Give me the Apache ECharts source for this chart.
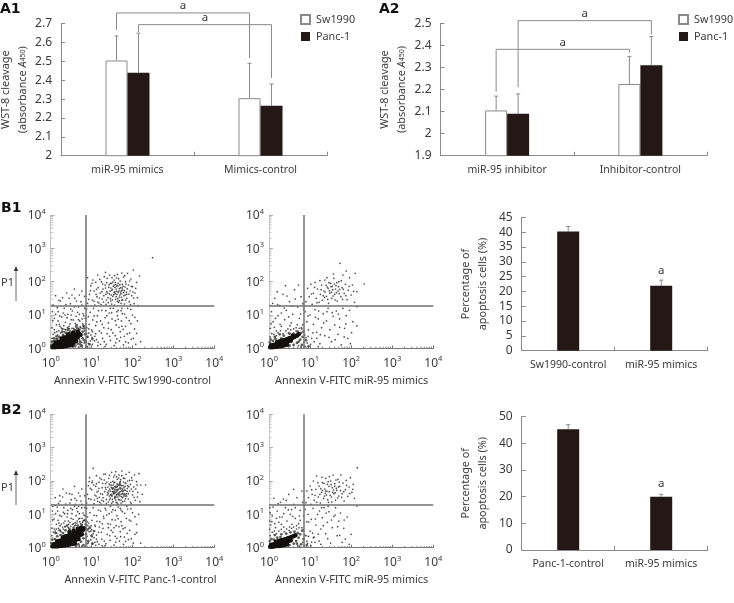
<!DOCTYPE html>
<html><head><meta charset="utf-8">
<script src="https://cdn.jsdelivr.net/npm/echarts@6/dist/echarts.min.js"></script>
<style>html,body{margin:0;padding:0;background:#fff}#c{width:734px;height:603px}</style></head>
<body><div id="c"></div>
<script>
// ---------- bar data ----------
const a1Cats = ['miR-95 mimics', 'Mimics-control'];
const a1Sw = [2.505, 2.305];
const a1Panc = [2.44, 2.265];
const a1SwTop = [2.635, 2.49];
const a1PancTop = [2.65, 2.38];
// bracket: category L, category R, side, left end, right end, line level
const a1Brackets = [[0, 1, -1, 2.667, 2.518, 2.757], [0, 1, 1, 2.656, 2.412, 2.695]];
const a2Cats = ['miR-95 inhibitor', 'Inhibitor-control'];
const a2Sw = [2.105, 2.225];
const a2Panc = [2.09, 2.31];
const a2SwTop = [2.17, 2.35];
const a2PancTop = [2.18, 2.44];
const a2Brackets = [[0, 1, -1, 2.19, 2.367, 2.382], [0, 1, 1, 2.21, 2.45, 2.512]];
const b1Cats = ['Sw1990-control', 'miR-95 mimics'];
const b1Vals = [40.2, 21.9];
const b1Tops = [41.9, 23.8];
const b1Sig = [[1, 27]];
const b2Cats = ['Panc-1-control', 'miR-95 mimics'];
const b2Vals = [45.3, 20];
const b2Tops = [47, 20.9];
const b2Sig = [[1, 24.8]];
// ---------- flow cytometry data (log10 decades, read by eye) ----------
const f1Core = [[.05,.03],[.11,.03],[.17,.04],[.23,.04],[.29,.05],[.35,.06],[.41,.08],[.47,.09],[.53,.11],[.08,.09],[.14,.1],[.2,.11],[.26,.12],[.32,.13],[.38,.15],[.44,.17],[.5,.19],[.56,.2],[.62,.22],[.12,.17],[.18,.19],[.24,.2],[.3,.22],[.36,.24],[.42,.26],[.48,.28],[.54,.3],[.6,.31],[.66,.33],[.27,.29],[.33,.32],[.39,.34],[.45,.36],[.51,.39],[.57,.4],[.63,.42],[.69,.44],[.73,.4],[.43,.42],[.55,.47],[.66,.5]];
const f1Halo = [[.02,.1],[.03,.2],[.08,.22],[.16,.28],[.21,.34],[.3,.4],[.37,.46],[.47,.5],[.6,.54],[.7,.56],[.78,.5],[.82,.6],[.84,.42],[.78,.3],[.72,.2],[.66,.14],[.6,.08],[.54,.05],[.76,.08],[.86,.2],[.9,.34],[.95,.12],[1.02,.28],[.14,.36],[.28,.5],[.42,.56],[.08,.3],[.8,.68],[.64,.62],[.72,.12],[.58,.15],[.82,.24]];
const f1Sparse = [[.9,1.35],[.95,1.62],[.98,1.88],[1.02,1.45],[1.03,2.05],[1.06,1.72],[1.08,1.3],[1.1,1.98],[1.13,1.55],[1.16,1.82],[1.18,1.36],[1.21,1.66],[1.24,2.0],[1.26,1.48],[1.28,1.78],[1.3,1.58],[1.33,1.9],[1.35,1.32],[1.37,1.7],[1.38,2.1],[1.4,1.52],[1.42,1.83],[1.44,1.63],[1.46,1.95],[1.47,1.42],[1.49,1.74],[1.5,2.12],[1.52,1.56],[1.53,1.86],[1.55,1.68],[1.56,1.3],[1.58,1.98],[1.59,1.47],[1.6,1.78],[1.62,1.62],[1.63,2.22],[1.64,1.88],[1.66,1.38],[1.67,1.72],[1.68,1.54],[1.7,2.02],[1.71,1.82],[1.72,1.64],[1.74,1.44],[1.75,1.92],[1.76,1.75],[1.78,2.14],[1.79,1.58],[1.8,1.33],[1.82,1.84],[1.83,2.0],[1.85,1.68],[1.86,1.5],[1.88,2.25],[1.9,1.9],[1.92,1.4],[1.94,1.72],[1.96,2.08],[1.98,1.58],[2.0,1.85],[2.02,2.35],[2.04,1.34],[2.06,1.66],[2.1,1.98],[2.14,1.28],[2.17,2.17],[2.49,2.72],[1.25,1.7],[1.45,1.72],[1.65,1.95],[1.57,1.7],[1.48,1.6],[1.35,1.62],[1.6,1.55],[.9,2.12],[1.15,2.2],[1.55,2.05],
[.88,1.18],[.92,.95],[.94,.72],[.97,1.08],[1.0,.55],[1.03,.85],[1.05,1.2],[1.08,.36],[1.1,.68],[1.14,.98],[1.16,.18],[1.19,.52],[1.22,.82],[1.25,1.14],[1.27,.3],[1.3,.62],[1.33,.92],[1.36,.12],[1.38,.44],[1.41,.76],[1.43,1.06],[1.46,.24],[1.48,.56],[1.5,.88],[1.53,1.2],[1.55,.08],[1.58,.38],[1.6,.7],[1.63,.98],[1.65,1.14],[1.68,.22],[1.7,.5],[1.73,.82],[1.75,1.04],[1.78,.1],[1.8,.36],[1.83,.66],[1.85,.92],[1.88,1.2],[1.9,.16],[1.93,.46],[1.96,.74],[2.0,1.0],[2.02,.3],[2.05,.58],[2.08,.12],[2.12,.82],[2.2,.2],[1.74,1.2],[1.62,1.1],[1.46,1.2],
[.03,.62],[.06,1.3],[.09,.9],[.12,1.58],[.15,.5],[.18,1.1],[.21,.72],[.24,1.42],[.27,.94],[.3,.58],[.33,1.2],[.36,.78],[.39,1.66],[.42,1.02],[.45,.66],[.48,1.34],[.5,.86],[.53,1.12],[.56,.6],[.59,1.5],[.62,.96],[.65,.7],[.68,1.24],[.71,.82],[.74,1.4],[.76,1.72],[.79,1.04],[.81,.66],[.83,1.56],[.84,.9],[.58,1.78],[.7,1.6],[.45,1.5],[.2,1.44],[.35,1.0],[.5,1.0],
[1.57,1.83],[1.71,1.69],[1.43,1.91],[1.84,1.93],[1.66,2.09],[1.51,1.77],[1.39,1.66],[1.77,1.86],[1.62,1.71],[1.91,1.63],[1.34,1.81],[1.69,1.91],[1.54,1.61],[1.8,1.73],[1.46,1.49],[1.73,1.53],[1.59,1.92],[1.27,1.93],[1.41,1.37],[1.87,1.79],[1.64,1.49],[1.36,1.45],[1.78,1.67],[1.52,1.99],[1.19,1.51],[1.93,2.02],[1.31,2.15],[1.61,2.11],[1.12,1.77],[1.06,1.41],[.97,1.73],[1.81,2.18],[1.97,1.86],[1.74,2.26],[1.68,1.43],[1.83,1.45],[1.49,1.33],[2.03,1.51],[2.08,1.8],[1.23,1.31],[1.11,1.62],[1.01,1.95],[1.29,1.39],[1.56,2.18],[1.44,2.2],[1.2,2.07],[.93,1.47],[1.95,1.31],[1.72,1.35],[1.37,1.97],[1.63,1.41],[1.51,1.45],[1.86,1.62],[1.76,1.46],[1.15,1.39],[2.01,1.69],[2.12,1.52],[1.34,2.28],
[1.72,1.13],[1.58,.83],[1.81,1.03],[1.49,1.07],[1.67,.63],[1.37,.98],[1.92,.83],[1.24,.46],[1.13,.79],[1.44,.36],[1.77,.57],[1.59,.17],[1.31,.2],[1.87,.43],[1.01,.33],[1.06,.97],[.93,.58],[1.17,1.13],[.89,.34],[1.97,.27],[1.65,.87],[1.52,.46],[1.41,.6],[1.35,1.13],[1.26,.72],[1.71,.33],[2.06,.93],[1.83,.19],[1.96,1.17],[2.1,.45],[.92,.15],[1.02,.12],[1.12,.26],[1.33,.06],[1.62,.28],[1.74,.66],
[.47,.73],[.18,.82],[.61,.66],[.32,.68],[.73,.62],[.09,.56],[.55,.85],[.26,.61],[.4,.92],[.77,.88],[.14,.7],[.66,1.08],[.49,1.18],[.31,1.06],[.83,1.2],[.22,.97],[.58,1.24],[.37,1.31],[.16,1.22],[.78,.74],[.05,.83],[.7,1.02],[.43,.6],[.63,1.42],[.52,1.6],[.29,1.52],[.68,.86],[.12,1.02],[.81,.98],[.04,1.1],[.76,1.3],[.35,.57],[.6,.75],[.23,.66],
[.03,.3],[.06,.42],[.1,.47],[.13,.28],[.17,.4],[.2,.53],[.24,.46],[.28,.58],[.33,.49],[.37,.55],[.41,.63],[.46,.58],[.52,.6],[.57,.57],[.62,.7],[.68,.6],[.72,.65],[.77,.6],[.83,.52],[.88,.62],[.93,.46],[.98,.4],[1.02,.5],[1.07,.22],[.86,.08],[.9,.05],[.97,.22],[.74,.05],[.68,.04],[.82,.16],[.76,.18],[.7,.26],[.88,.44],[1.1,.44],[1.15,.08],[1.22,.12],[1.47,1.81],[1.61,1.87],[1.68,1.79],[1.73,1.73],[1.55,1.9],[1.49,1.95],[1.65,1.68],[1.58,1.64],[1.69,1.6],[1.82,1.6],[1.75,1.81]];
const f2Core = [[.03,.03],[.08,.03],[.14,.04],[.2,.05],[.26,.06],[.32,.07],[.38,.09],[.44,.11],[.05,.09],[.11,.1],[.17,.12],[.23,.14],[.29,.15],[.35,.17],[.41,.19],[.47,.21],[.53,.23],[.2,.19],[.26,.21],[.32,.23],[.38,.25],[.44,.28],[.5,.31],[.56,.3],[.62,.34],[.68,.38],[.72,.42],[.58,.38]];
const f2Halo = [[.02,.18],[.04,.26],[.1,.22],[.16,.28],[.3,.3],[.36,.38],[.5,.44],[.6,.44],[.7,.5],[.78,.46],[.82,.34],[.76,.26],[.68,.16],[.6,.1],[.5,.08],[.8,.1],[.9,.24],[.96,.06],[.14,.34],[.26,.42],[.84,.5],[.72,.2]];
const f2Sparse = [[.9,1.4],[.94,1.8],[.98,1.55],[1.02,1.92],[1.05,1.32],[1.08,1.65],[1.12,1.98],[1.15,1.5],[1.18,1.78],[1.22,1.38],[1.25,1.62],[1.28,1.9],[1.3,1.45],[1.34,1.72],[1.36,2.05],[1.4,1.56],[1.42,1.84],[1.45,1.35],[1.48,1.66],[1.5,1.95],[1.53,1.5],[1.55,1.76],[1.58,2.1],[1.6,1.62],[1.63,1.88],[1.66,1.42],[1.68,1.72],[1.7,2.0],[1.73,2.55],[1.75,1.55],[1.78,1.82],[1.8,2.2],[1.83,1.65],[1.86,1.92],[1.88,2.32],[1.9,1.46],[1.93,1.74],[1.96,2.12],[2.0,1.6],[2.03,1.9],[2.08,1.38],[2.1,2.25],[2.14,1.7],[2.32,1.93],[1.32,1.58],[1.52,1.68],[1.62,1.78],[1.44,1.8],
[.88,1.1],[.92,.8],[.96,.55],[1.0,1.0],[1.04,.3],[1.08,.72],[1.12,1.16],[1.16,.48],[1.2,.88],[1.24,.14],[1.28,.62],[1.32,1.04],[1.36,.38],[1.4,.82],[1.44,1.2],[1.48,.56],[1.52,.2],[1.56,.96],[1.6,.7],[1.64,1.12],[1.68,.42],[1.72,.88],[1.76,.1],[1.8,1.2],[1.84,.6],[1.88,.98],[1.92,.3],[1.96,1.14],[2.04,.8],[2.14,.67],[2.14,1.25],[1.98,.14],
[.03,.6],[.06,1.1],[.1,.8],[.14,1.5],[.18,.52],[.22,.98],[.26,1.28],[.3,.66],[.34,1.62],[.38,.86],[.42,1.14],[.46,.58],[.5,1.4],[.54,.76],[.58,1.02],[.62,1.76],[.66,.62],[.7,1.24],[.74,.9],[.78,1.55],[.82,.7],[.84,1.18],[.72,1.9],[.4,1.88],[.2,1.7],
[1.47,1.73],[1.59,1.93],[1.39,1.89],[1.71,1.64],[1.56,1.57],[1.27,1.76],[1.81,1.77],[1.65,1.97],[1.43,1.47],[1.76,2.03],[1.11,1.83],[1.87,1.58],[1.35,1.53],[1.61,1.45],[1.51,1.85],[1.24,2.03],[1.69,1.85],[1.95,1.86],[1.03,1.63],[1.17,1.37],[1.57,2.23],[2.06,1.71],[1.41,2.12],[1.79,1.47],
[1.33,.76],[1.54,1.07],[1.13,.93],[1.46,.33],[1.72,.63],[1.25,.41],[1.61,.26],[1.41,1.1],[1.07,.46],[1.87,.73],[.95,.97],[.9,.32],[1.69,1.03],[1.21,1.12],[2.01,.47],[1.83,.34],
[.27,.72],[.48,.94],[.13,.63],[.69,.71],[.37,1.21],[.57,1.27],[.05,.74],[.77,1.03],[.21,1.31],[.44,1.57],[.64,1.48],[.82,1.34],[.09,1.35],[.3,1.06],[.51,.68],[.79,.62],[.16,.9],
[.03,.34],[.07,.44],[.12,.42],[.18,.38],[.22,.47],[.28,.53],[.34,.44],[.41,.52],[.47,.46],[.53,.55],[.6,.58],[.66,.52],[.74,.6],[.8,.58],[.87,.4],[.93,.16],[.88,.06],[.78,.04],[.72,.08],[.85,.18],[.95,.36],[1.01,.12],[1.1,.2],[1.2,.05],[1.16,.3],[1.37,1.69],[1.54,1.86],[1.64,1.67],[1.46,1.97],[1.72,1.77]];
const f3Core = [[.05,.04],[.11,.04],[.17,.04],[.23,.05],[.29,.06],[.35,.07],[.41,.08],[.47,.1],[.53,.11],[.59,.13],[.08,.1],[.14,.11],[.2,.12],[.26,.13],[.32,.15],[.38,.16],[.44,.18],[.5,.2],[.56,.22],[.62,.24],[.68,.26],[.16,.19],[.22,.21],[.28,.23],[.34,.25],[.4,.27],[.46,.29],[.52,.31],[.58,.33],[.64,.35],[.7,.37],[.76,.4],[.3,.31],[.36,.34],[.42,.36],[.48,.39],[.54,.41],[.6,.43],[.66,.46],[.72,.49],[.78,.52],[.82,.58],[.46,.47],[.56,.51],[.66,.56],[.74,.6]];
const f3Halo = [[.02,.14],[.04,.24],[.1,.26],[.16,.34],[.24,.38],[.3,.44],[.36,.52],[.46,.56],[.56,.6],[.66,.66],[.76,.68],[.86,.7],[.9,.54],[.86,.4],[.8,.28],[.74,.18],[.68,.1],[.62,.06],[.8,.08],[.92,.2],[1.0,.36],[1.02,.12],[.96,.6],[1.06,.5],[.22,.52],[.12,.44],[.4,.66],[.84,.82],
[1.56,1.65],[1.62,1.72],[1.66,1.62],[1.7,1.78],[1.6,1.82],[1.76,1.7],[1.52,1.78],[1.68,1.88],[1.8,1.6],[1.48,1.58],[1.58,1.52]];
const f3Sparse = [[.88,1.34],[.9,1.6],[.92,1.86],[.95,2.1],[.98,1.45],[1.0,1.74],[1.02,2.0],[1.04,2.38],[1.06,1.32],[1.08,1.58],[1.1,1.84],[1.12,2.16],[1.14,1.48],[1.16,1.7],[1.18,1.96],[1.2,1.36],[1.22,1.62],[1.24,2.05],[1.26,1.8],[1.28,1.5],[1.3,2.2],[1.32,1.68],[1.34,1.92],[1.36,1.32],[1.38,1.58],[1.4,1.82],[1.42,2.08],[1.44,1.44],[1.46,1.7],[1.47,1.96],[1.49,2.26],[1.5,1.55],[1.52,1.38],[1.53,1.88],[1.54,2.12],[1.56,1.48],[1.57,1.96],[1.59,2.28],[1.6,1.36],[1.61,1.6],[1.63,2.05],[1.64,1.9],[1.66,1.45],[1.67,2.18],[1.69,1.55],[1.7,1.98],[1.72,1.34],[1.73,1.86],[1.74,2.3],[1.76,1.5],[1.78,2.08],[1.79,1.8],[1.81,1.4],[1.82,1.94],[1.84,2.2],[1.85,1.62],[1.87,1.78],[1.88,2.0],[1.9,1.46],[1.92,2.26],[1.93,1.7],[1.95,1.9],[1.97,1.32],[1.98,2.1],[2.0,1.58],[2.03,1.82],[2.05,2.18],[2.07,1.42],[2.1,1.98],[2.13,1.66],[2.16,2.22],[2.18,1.38],[2.2,1.88],[2.24,1.6],[2.32,1.88],[1.12,1.92],[1.25,1.42],[1.35,1.75],[1.43,1.55],[1.55,1.7],[1.65,1.75],[1.75,1.62],[1.83,1.72],[1.9,1.62],[1.45,1.88],
[.88,1.18],[.9,.92],[.93,.74],[.96,1.05],[.98,.5],[1.01,.82],[1.04,1.2],[1.06,.3],[1.09,.64],[1.12,.96],[1.14,.18],[1.17,.46],[1.2,.78],[1.22,1.1],[1.25,.26],[1.28,.58],[1.3,.88],[1.33,1.18],[1.35,.12],[1.38,.4],[1.4,.72],[1.43,1.02],[1.45,.22],[1.48,.52],[1.5,.84],[1.52,1.14],[1.55,.08],[1.58,.34],[1.6,.66],[1.62,.96],[1.65,1.22],[1.68,.2],[1.7,.48],[1.72,.78],[1.75,1.08],[1.78,.1],[1.8,.32],[1.82,.6],[1.85,.88],[1.88,1.16],[1.9,.24],[1.93,.52],[1.96,.8],[2.0,1.05],[2.02,.14],[2.06,.4],[2.1,.7],[2.15,1.0],[2.2,.14],[1.46,1.24],[1.64,1.3],[1.58,1.12],[1.7,1.18],
[.03,.58],[.05,1.24],[.08,.86],[.11,1.5],[.14,.56],[.17,1.1],[.2,.74],[.23,1.4],[.26,.94],[.29,.62],[.32,1.2],[.35,.8],[.38,1.64],[.41,1.02],[.44,.7],[.47,1.34],[.5,.88],[.53,1.14],[.56,.72],[.59,1.48],[.62,.96],[.65,.8],[.68,1.24],[.71,.88],[.74,1.4],[.76,1.76],[.79,1.04],[.81,.82],[.83,1.56],[.84,.96],[.58,1.84],[.68,1.64],[.46,1.62],[.22,1.56],[.34,1.02],[.52,1.02],[.3,1.76],[.6,1.3],[.76,1.2],
[1.57,1.83],[1.71,1.69],[1.43,1.91],[1.84,1.93],[1.66,2.09],[1.51,1.77],[1.39,1.66],[1.77,1.86],[1.62,1.91],[1.91,1.83],[1.34,1.81],[1.69,1.95],[1.54,1.61],[1.8,1.73],[1.46,1.49],[1.73,1.53],[1.59,1.43],[1.27,1.93],[1.41,1.37],[1.87,1.69],[1.64,1.52],[1.36,1.45],[1.78,1.97],[1.52,1.99],[1.19,1.51],[1.93,2.02],[1.31,2.03],[1.61,2.13],[1.13,1.67],[1.07,1.43],[.97,1.78],[1.81,2.08],[1.97,1.76],[1.74,2.16],[1.68,1.43],[1.83,1.47],[1.49,1.33],[2.04,1.51],[2.08,1.76],[1.23,1.31],[1.11,1.55],[1.01,1.95],[1.29,1.39],[1.56,2.18],[1.44,2.17],[1.2,2.09],[.93,1.47],[1.95,1.37],[1.72,1.43],[1.37,1.97],[1.63,1.34],[1.51,1.45],[1.86,1.55],[1.76,1.38],[1.15,1.39],[2.01,1.69],[2.12,1.52],[1.34,2.21],[1.48,1.81],[1.6,1.67],[1.71,2.04],[1.42,1.7],[1.53,1.65],[1.68,1.67],[1.79,1.55],[1.27,1.6],[1.18,1.78],[1.05,1.88],[.94,1.98],[1.99,2.02],[1.88,1.86],[2.11,1.88],
[1.72,1.13],[1.58,.83],[1.81,1.03],[1.49,1.07],[1.67,.63],[1.37,.98],[1.92,.83],[1.24,.46],[1.13,.79],[1.44,.36],[1.77,.57],[1.59,.17],[1.31,.2],[1.87,.43],[1.01,.33],[1.06,.97],[.93,.58],[1.17,1.13],[.89,.34],[1.97,.27],[1.65,.87],[1.52,.46],[1.41,.6],[1.35,1.13],[1.26,.72],[1.71,.33],[2.06,.93],[1.83,.19],[1.96,1.17],[2.1,.45],[.92,.15],[1.02,.12],[1.12,.26],[1.33,.06],[1.62,.28],[1.74,.66],[1.19,.62],[1.08,.16],[1.29,.94],[.99,.66],[1.55,.6],[1.86,1.24],[1.46,.7],
[.47,.76],[.18,.82],[.61,.68],[.32,.74],[.73,.72],[.09,.56],[.55,.85],[.26,.71],[.4,.92],[.77,.88],[.14,.7],[.66,1.08],[.49,1.18],[.31,1.06],[.83,1.2],[.22,.97],[.58,1.24],[.37,1.31],[.16,1.22],[.78,.76],[.05,.83],[.7,1.02],[.43,.8],[.63,1.42],[.52,1.6],[.29,1.52],[.68,.86],[.12,1.02],[.81,.98],[.04,1.1],[.76,1.3],[.35,.62],[.6,.75],[.23,.66],[.5,1.44],[.42,1.12],[.64,1.18],[.19,1.33],[.72,1.55],[.1,1.27],
[.03,.36],[.07,.46],[.11,.5],[.15,.44],[.19,.58],[.25,.48],[.31,.56],[.35,.64],[.43,.6],[.49,.64],[.53,.7],[.59,.66],[.64,.74],[.71,.78],[.79,.8],[.89,.78],[.94,.48],[1.0,.54],[1.04,.42],[.98,.24],[.9,.12],[.84,.05],[.76,.05],[.7,.05],[.87,.3],[.91,.66],[1.08,.68],[1.12,.38],[1.18,.1],[1.26,.06],[1.1,.07],[1.51,1.68],[1.63,1.84],[1.72,1.6],[1.57,1.75],[1.44,1.76],[1.75,1.76],[1.67,1.58],[1.82,1.84],[1.62,1.58],[1.49,1.88],[1.55,1.95],[1.7,1.9],[1.41,1.62],[1.83,1.55]];
const f4Core = [[.03,.03],[.08,.03],[.14,.04],[.2,.05],[.26,.05],[.32,.07],[.38,.08],[.44,.1],[.05,.09],[.11,.1],[.17,.11],[.23,.13],[.29,.14],[.35,.16],[.41,.18],[.47,.2],[.53,.22],[.17,.18],[.23,.2],[.29,.22],[.35,.24],[.41,.26],[.47,.29],[.53,.31],[.59,.34],[.64,.37]];
const f4Halo = [[.02,.2],[.06,.26],[.12,.24],[.2,.3],[.28,.32],[.3,.4],[.42,.42],[.52,.46],[.62,.48],[.7,.44],[.76,.4],[.72,.3],[.66,.2],[.6,.12],[.5,.08],[.78,.1],[.84,.26],[.82,.52],[.92,.08],[.14,.38],[.68,.12]];
const f4Sparse = [[.9,1.35],[.92,1.7],[.96,1.5],[1.0,1.85],[1.02,1.3],[1.05,1.6],[1.08,2.0],[1.1,1.42],[1.14,1.75],[1.16,2.15],[1.2,1.52],[1.22,1.85],[1.25,1.34],[1.28,1.66],[1.3,1.95],[1.33,1.48],[1.36,1.76],[1.38,2.08],[1.4,1.58],[1.42,1.9],[1.45,1.36],[1.47,1.68],[1.5,2.0],[1.52,1.52],[1.54,1.8],[1.56,2.18],[1.58,1.62],[1.6,1.92],[1.62,1.42],[1.65,1.72],[1.68,2.05],[1.7,1.55],[1.72,1.84],[1.75,2.18],[1.78,1.62],[1.8,1.94],[1.83,1.4],[1.86,1.74],[1.88,2.02],[1.92,1.54],[1.95,1.82],[1.98,2.1],[2.02,1.66],[2.05,1.9],[2.08,1.48],[2.15,2.4],[1.3,1.72],[1.46,1.84],[1.55,1.66],[1.24,1.6],[1.64,1.78],[1.35,1.55],
[.88,1.15],[.92,.78],[.95,1.0],[1.0,.5],[1.03,.85],[1.07,1.18],[1.1,.32],[1.14,.68],[1.18,1.0],[1.22,.2],[1.26,.56],[1.3,.9],[1.34,1.2],[1.38,.42],[1.42,.76],[1.46,1.08],[1.5,.14],[1.54,.6],[1.58,.94],[1.62,1.2],[1.66,.36],[1.7,.8],[1.74,1.04],[1.78,.16],[1.82,.58],[1.86,.26],[1.9,.92],[1.95,.1],[2.0,.4],[2.14,1.25],[1.28,1.2],[1.44,1.24],
[.02,.55],[.02,.8],[.03,1.05],[.02,1.2],[.04,.68],[.08,.95],[.12,1.48],[.16,.6],[.2,1.1],[.24,.76],[.28,1.36],[.32,.92],[.36,.62],[.4,1.2],[.44,.8],[.48,1.6],[.52,1.0],[.56,.7],[.6,1.3],[.64,.88],[.68,1.5],[.72,.72],[.76,1.12],[.8,1.7],[.84,.95],[.6,1.75],[.35,1.46],[.8,.6],
[1.41,1.69],[1.57,1.73],[1.34,1.93],[1.71,1.97],[1.49,1.57],[1.26,1.77],[1.82,1.68],[1.63,2.03],[1.43,1.44],[1.77,1.51],[1.12,1.57],[1.89,1.87],[1.37,1.63],[1.53,1.37],[1.6,1.84],[1.19,1.95],[1.67,1.49],[1.97,1.63],[1.04,1.74],[1.16,1.36],[1.47,2.13],[2.04,1.75],[1.29,2.11],[1.74,1.71],
[1.32,.66],[1.52,.83],[1.13,.86],[1.43,.27],[1.67,.63],[1.2,.41],[1.61,.98],[1.39,1.04],[1.06,.44],[1.83,.83],[.97,.77],[.9,.36],[1.72,.37],[1.23,1.1],[.94,.13],[1.04,.17],
[.26,.92],[.47,1.14],[.14,.72],[.67,.66],[.36,1.02],[.55,1.14],[.07,.78],[.74,.95],[.22,1.32],[.42,1.42],[.64,1.2],[.82,1.36],[.1,1.22],[.3,.7],[.5,.62],[.76,.82],[.18,.88],[.58,.94],
[.03,.36],[.08,.46],[.13,.5],[.18,.42],[.24,.5],[.3,.55],[.37,.48],[.43,.56],[.49,.52],[.55,.58],[.6,.62],[.67,.56],[.73,.6],[.8,.5],[.87,.38],[.92,.2],[.86,.05],[.74,.04],[.7,.06],[.82,.16],[.96,.34],[1.02,.06],[1.12,.16],[1.26,.1],[1.08,.3],[1.38,1.7],[1.51,1.89],[1.61,1.65],[1.44,1.98],[1.69,1.82]];
// ---------- axis tick factors ----------
const decades = [0, 1, 2, 3];
const minorFactors = [2, 3, 4, 5, 6, 7, 8, 9];

const txt = '#3a3a3a', ax = '#8a8a8a', black = '#231815';
const font = '"Noto Sans","DejaVu Sans",sans-serif';
const BW = 22;
const grid = [
  {left:61, top:23.7, width:266, height:132},
  {left:440.5, top:23.3, width:266.5, height:132.4},
  {left:50.7, top:215, width:163.6, height:133.3},
  {left:269, top:215, width:164.3, height:133.3},
  {left:521.7, top:217.3, width:186, height:133.4},
  {left:50.7, top:414.3, width:163.6, height:133.4},
  {left:269, top:414.3, width:164.3, height:133.4},
  {left:521.7, top:416.7, width:186, height:133.3}
].map(g => ({...g, outerBoundsMode:'none', containLabel:false}));
const catAxis = (i, cats) => ({type:'category', gridIndex:i, data:cats,
  axisLine:{lineStyle:{color:ax}}, axisTick:{show:true, inside:true, length:4, lineStyle:{color:ax}},
  axisLabel:{color:txt, fontSize:10.5, fontFamily:font, margin:9, interval:0}});
const valAxis = (i, min, max, step, name, gap) => ({type:'value', gridIndex:i, min, max, interval:step,
  name, nameLocation:'middle', nameRotate:90, nameGap:gap,
  nameTextStyle:{color:txt, fontSize:10.8, fontFamily:font, lineHeight:17,
    rich:{n:{color:txt, fontSize:10.8, fontFamily:font, lineHeight:17}, i:{color:txt, fontSize:10.8, fontStyle:'italic', fontFamily:font}, s:{color:txt, fontSize:7, fontFamily:font}}},
  splitLine:{show:false}, axisLine:{show:true, lineStyle:{color:ax}}, axisTick:{show:true, inside:true, length:4, lineStyle:{color:ax}},
  axisLabel:{color:txt, fontSize:12, fontFamily:font, margin:9}});
const powLabel = v => '{b|10}{s|' + v + '}';
const powRich = {b:{fontSize:12, color:txt, fontFamily:font, verticalAlign:'bottom', lineHeight:14}, s:{fontSize:7.5, color:txt, fontFamily:font, verticalAlign:'top', lineHeight:14}};
const flowX = (i, name, pad) => ({type:'value', gridIndex:i, min:0, max:4, interval:1,
  name, nameLocation:'middle', nameGap:27, nameTextStyle:{color:txt, fontSize:10.8, fontFamily:font, padding:pad},
  splitLine:{show:false}, axisLine:{lineStyle:{color:'#777'}}, axisTick:{inside:true, length:3, lineStyle:{color:'#777'}},
  axisLabel:{formatter:powLabel, rich:powRich, margin:7}});
const flowY = i => ({type:'value', gridIndex:i, min:0, max:4, interval:1,
  splitLine:{show:false}, axisLine:{show:true, lineStyle:{color:'#c4c4c4'}}, axisTick:{show:true, inside:true, length:4, lineStyle:{color:'#b0b0b0'}},
  axisLabel:{formatter:powLabel, rich:powRich, margin:5}});

const xAxis = [catAxis(0,a1Cats), catAxis(1,a2Cats), flowX(2,'Annexin V-FITC Sw1990-control',[0,0,0,0]), flowX(3,'Annexin V-FITC miR-95 mimics',[0,0,0,1]), catAxis(4,b1Cats), flowX(5,'Annexin V-FITC Panc-1-control',[0,0,0,16]), flowX(6,'Annexin V-FITC miR-95 mimics',[0,0,0,1]), catAxis(7,b2Cats)];
const wst = '{n|WST-8 cleavage}\n{n|(absorbance }{i|A}{s|450}{n|)}';
const pct = '{n|Percentage of}\n{n|apoptosis cells (%)}';
const yAxis = [valAxis(0,2,2.7,.1,wst,29), valAxis(1,1.9,2.5,.1,wst,30), flowY(2), flowY(3), valAxis(4,0,45,5,pct,30), flowY(5), flowY(6), valAxis(7,0,50,10,pct,30)];

const gray = '#8a8a8a';
const errSeries = (i, cats, tops, vals, side) => ({type:'custom', xAxisIndex:i, yAxisIndex:i, silent:true, z:1,
  data:tops.map((t,k)=>[k, vals[k], t]), encode:{x:0,y:2},
  renderItem:(p,api)=>{ const a=api.coord([api.value(0),api.value(1)]), b=api.coord([api.value(0),api.value(2)]); const x=a[0]+side*BW/2;
    return {type:'group',children:[
      {type:'line',shape:{x1:x,y1:a[1],x2:x,y2:b[1]},style:{stroke:gray,lineWidth:1}},
      {type:'line',shape:{x1:x-2,y1:b[1],x2:x+2,y2:b[1]},style:{stroke:gray,lineWidth:1}}]};}});
const bracketSeries = (i, list) => ({type:'custom', xAxisIndex:i, yAxisIndex:i, silent:true, z:5, data:list, encode:{x:0,y:5},
  renderItem:(p,api)=>{ const s=api.value(2)*BW/2;
    const l=api.coord([api.value(0),api.value(3)]), r=api.coord([api.value(1),api.value(4)]), t=api.coord([api.value(0),api.value(5)]);
    const xl=l[0]+s, xr=r[0]+s;
    return {type:'group',children:[
      {type:'polyline',shape:{points:[[xl,l[1]],[xl,t[1]],[xr,t[1]],[xr,r[1]]]},style:{stroke:gray,fill:null,lineWidth:1}},
      {type:'text',style:{text:'a',x:(xl+xr)/2,y:t[1]-1,textAlign:'center',textVerticalAlign:'bottom',fill:txt,font:'11.5px '+font}}]};}});
const sigSeries = (i, list) => ({type:'custom', xAxisIndex:i, yAxisIndex:i, silent:true, data:list, encode:{x:0,y:1},
  renderItem:(p,api)=>{const c=api.coord([api.value(0),api.value(1)]);
    return {type:'text',style:{text:'a',x:c[0],y:c[1],textAlign:'center',textVerticalAlign:'middle',fill:txt,font:'11.5px '+font}};}});
const barSeries = (i, name, vals, white) => ({type:'bar', name, xAxisIndex:i, yAxisIndex:i, data:vals, barWidth:BW, barGap:0, silent:true,
  itemStyle: white ? {color:'#fff', borderColor:gray, borderWidth:1} : {color:black}});
const minorData = [];
decades.forEach(d=>minorFactors.forEach(f=>minorData.push(d+Math.log10(f))));
const minorSeries = i => ({type:'custom', xAxisIndex:i, yAxisIndex:i, silent:true, z:1, data:minorData.map(v=>[v]), encode:{x:0},
  renderItem:(p,api)=>{const v=api.value(0); const a=api.coord([v,0]), b=api.coord([0,v]);
    return {type:'group',children:[
      {type:'line',shape:{x1:a[0],y1:a[1],x2:a[0],y2:a[1]-1.6},style:{stroke:'#777',lineWidth:1}},
      {type:'line',shape:{x1:b[0],y1:b[1],x2:b[0]+2.5,y2:b[1]},style:{stroke:'#c0c0c0',lineWidth:1}}]};}});
const dots = (i, data, size, color, opacity) => ({type:'scatter', xAxisIndex:i, yAxisIndex:i, data, symbolSize:size, silent:true, z:3,
  itemStyle:{color, opacity, borderWidth:0}});
const flow = (i, core, halo, sparse, gx, gy) => [
  minorSeries(i),
  dots(i, sparse, 1.7, '#222', .8),
  dots(i, halo, 2.8, '#333', .8),
  dots(i, core, 4.6, '#141010', 1),
  {type:'scatter', xAxisIndex:i, yAxisIndex:i, data:[], silent:true, z:4,
   markLine:{silent:true, symbol:'none', animation:false, label:{show:false}, lineStyle:{color:'#707070', type:'solid', width:1.5},
     data:[{xAxis:gx},{yAxis:gy}]}}
];
const gateX = [.856, .852, .85, .852], gateY = [1.27, 1.28, 1.28, 1.28];

const series = [
  barSeries(0,'Sw1990',a1Sw,true), barSeries(0,'Panc-1',a1Panc,false),
  errSeries(0,a1Cats,a1SwTop,a1Sw,-1), errSeries(0,a1Cats,a1PancTop,a1Panc,1), bracketSeries(0,a1Brackets),
  barSeries(1,'Sw1990',a2Sw,true), barSeries(1,'Panc-1',a2Panc,false),
  errSeries(1,a2Cats,a2SwTop,a2Sw,-1), errSeries(1,a2Cats,a2PancTop,a2Panc,1), bracketSeries(1,a2Brackets),
  ...flow(2,f1Core,f1Halo,f1Sparse,gateX[0],gateY[0]),
  ...flow(3,f2Core,f2Halo,f2Sparse,gateX[1],gateY[1]),
  barSeries(4,'b1',b1Vals,false), errSeries(4,b1Cats,b1Tops,b1Vals,0), sigSeries(4,b1Sig),
  ...flow(5,f3Core,f3Halo,f3Sparse,gateX[2],gateY[2]),
  ...flow(6,f4Core,f4Halo,f4Sparse,gateX[3],gateY[3]),
  barSeries(7,'b2',b2Vals,false), errSeries(7,b2Cats,b2Tops,b2Vals,0), sigSeries(7,b2Sig)
];
const legendBase = {orient:'vertical', selectedMode:false, data:['Sw1990','Panc-1'], icon:'rect', itemWidth:9, itemHeight:9, itemGap:6,
  padding:0, textStyle:{color:txt, fontSize:10.8, fontFamily:font, padding:[0,0,0,1]}};
const lbl = (t,left,top) => ({type:'text', left, top, silent:true, style:{text:t, fill:'#111', font:'bold 14px "DejaVu Sans",sans-serif'}});
const p1 = (top) => ({type:'text', left:1, top, silent:true, style:{text:'P1', fill:txt, font:'11px '+font}});
const arrow = (y1,y2) => [
  {type:'line', silent:true, shape:{x1:16,y1,x2:16,y2:y2+3}, style:{stroke:'#666',lineWidth:1}},
  {type:'polygon', silent:true, shape:{points:[[16,y2],[13.8,y2+5],[18.2,y2+5]]}, style:{fill:'#333'}}];
const graphic = [lbl('A1',0,2), lbl('A2',379,2), lbl('B1',1,201), lbl('B2',1,403), p1(277), p1(482), ...arrow(301,266), ...arrow(505,470)];

const chart = echarts.init(document.getElementById('c'), null, {renderer:'canvas'});
chart.setOption({animation:false, backgroundColor:'#fff', grid, xAxis, yAxis, series, graphic,
  legend:[{...legendBase,left:300,top:14},{...legendBase,left:678,top:14}]});
</script></body></html>
